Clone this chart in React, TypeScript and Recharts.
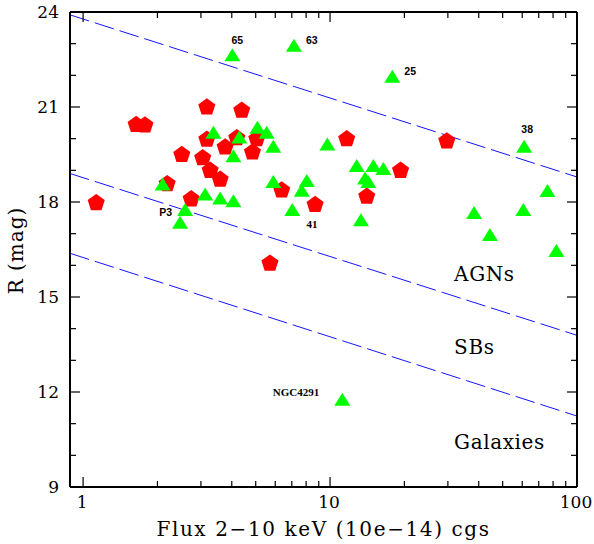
import React from 'react';
import { ScatterChart, Scatter, XAxis, YAxis, ReferenceLine, ReferenceDot, Label } from 'recharts';

// ---- data ----
const pentagonFlux = [1.13, 1.64, 1.78, 2.51, 2.19, 2.74, 3.17, 3.17, 3.05, 3.27, 3.59, 3.76, 4.39, 4.19, 5.05, 4.85, 6.37, 5.71, 8.7, 11.68, 14.08, 19.3, 29.7];
const pentagonMag = [18.0, 20.47, 20.45, 19.52, 18.6, 18.12, 21.02, 20.0, 19.42, 19.02, 18.74, 19.76, 20.92, 20.05, 20.02, 19.6, 18.4, 16.09, 17.94, 20.02, 18.2, 19.02, 19.95];
const pentagonLabels = ['', '', '', '', '', '', '', '', '', '', '', '', '', '', '', '', '', '', '41', '', '', '', ''];

const triangleFlux = [4.02, 7.14, 17.87, 61.1, 3.37, 5.08, 5.54, 4.29, 5.89, 4.06, 2.1, 3.12, 3.59, 4.06, 5.89, 2.59, 2.47, 7.03, 9.75, 8.05, 7.68, 12.82, 14.97, 16.44, 13.86, 14.29, 13.34, 75.9, 38.3, 60.6, 44.4, 82.5, 11.21];
const triangleMag = [22.65, 22.95, 21.97, 19.76, 20.2, 20.36, 20.2, 20.05, 19.76, 19.46, 18.57, 18.25, 18.13, 18.04, 18.65, 17.76, 17.36, 17.76, 19.83, 18.68, 18.37, 19.15, 19.15, 19.06, 18.76, 18.65, 17.44, 18.36, 17.67, 17.76, 16.97, 16.47, 11.77];
const triangleLabels = ['65', '63', '25', '38', '', '', '', '', '', '', '', '', '', '', '', 'P3', '', '', '', '', '', '', '', '', '', '', '', '', '', '', '', '', 'NGC4291'];

const boundaryLines = [
  [{ x: 0.885, y: 23.91 }, { x: 100, y: 18.79 }],
  [{ x: 0.885, y: 18.9 }, { x: 100, y: 13.79 }],
  [{ x: 0.885, y: 16.38 }, { x: 100, y: 11.24 }],
];

const regionNames = ['AGNs', 'SBs', 'Galaxies'];
const regionX = [31.8, 31.8, 31.8];
const regionY = [15.72, 13.41, 10.41];

const xTicks = [1, 2, 3, 4, 5, 6, 7, 8, 9, 10, 20, 30, 40, 50, 60, 70, 80, 90, 100];
const xLabelled = [1, 10, 100];
const yTicks = [9, 10, 11, 12, 13, 14, 15, 16, 17, 18, 19, 20, 21, 22, 23, 24];
const yLabelled = [9, 12, 15, 18, 21, 24];
const xDomain = [0.885, 100];
const yDomain = [9, 24];

const pentagons = pentagonFlux.map((x, i) => ({ x, y: pentagonMag[i], label: pentagonLabels[i] }));
const triangles = triangleFlux.map((x, i) => ({ x, y: triangleMag[i], label: triangleLabels[i] }));

// ---- styles ----
const SERIF = '"DejaVu Serif", serif';
const labelPlacement: Record<string, { dx: number; dy: number; anchor: string; serif?: boolean }> = {
  '65': { dx: 5, dy: -14.5, anchor: 'middle' },
  '63': { dx: 12, dy: -5, anchor: 'start' },
  '25': { dx: 12, dy: -5, anchor: 'start' },
  '38': { dx: 3, dy: -17.5, anchor: 'middle' },
  P3: { dx: -13, dy: 2, anchor: 'end' },
  '41': { dx: -3, dy: 20, anchor: 'middle', serif: true },
  NGC4291: { dx: -23, dy: -7.5, anchor: 'end', serif: true },
};

const PointLabel = ({ cx, cy, text }: any) => {
  if (!text) return null;
  const p = labelPlacement[text];
  return (
    <text
      x={cx + p.dx}
      y={cy + p.dy}
      textAnchor={p.anchor}
      dominantBaseline="central"
      fontFamily={p.serif ? '"Liberation Serif", serif' : '"Liberation Sans", sans-serif'}
      fontWeight="bold"
      fontSize={p.serif ? 11 : 10.5}
      fill="#000"
    >
      {text}
    </text>
  );
};

const Pentagon = (props: any) => {
  const { cx, cy, payload } = props;
  if (cx == null || cy == null) return null;
  const R = 9;
  const c = cy + 0.9;
  const pts = [0, 1, 2, 3, 4]
    .map((k) => {
      const a = ((-90 + 72 * k) * Math.PI) / 180;
      return `${cx + R * Math.cos(a)},${c + R * Math.sin(a)}`;
    })
    .join(' ');
  return (
    <g>
      <polygon points={pts} fill="#ff0000" />
      <PointLabel cx={cx} cy={cy} text={payload?.label} />
    </g>
  );
};

const Triangle = (props: any) => {
  const { cx, cy, payload } = props;
  if (cx == null || cy == null) return null;
  const pts = `${cx},${cy - 6.5} ${cx + 8},${cy + 6.5} ${cx - 8},${cy + 6.5}`;
  return (
    <g>
      <polygon points={pts} fill="#00ff00" />
      <PointLabel cx={cx} cy={cy} text={payload?.label} />
    </g>
  );
};

const tickStroke = { stroke: '#000', strokeWidth: 1.2 };

const BottomTick = ({ x, y, payload }: any) => {
  const major = xLabelled.includes(payload.value);
  return (
    <g>
      <line x1={x} y1={y} x2={x} y2={y - (major ? 10 : 6)} {...tickStroke} />
      {major && (
        <text x={x - 1} y={y + 15} textAnchor="middle" dominantBaseline="central" fontFamily={SERIF} fontSize={17} fill="#000">
          {payload.value}
        </text>
      )}
    </g>
  );
};

const TopTick = ({ x, y, payload }: any) => {
  const major = xLabelled.includes(payload.value);
  return <line x1={x} y1={y} x2={x} y2={y + (major ? 10 : 6)} {...tickStroke} />;
};

const LeftTick = ({ x, y, payload }: any) => {
  const major = yLabelled.includes(payload.value);
  return (
    <g>
      <line x1={x} y1={y} x2={x + (major ? 10 : 6)} y2={y} {...tickStroke} />
      {major && (
        <text x={x - 11} y={y} textAnchor="end" dominantBaseline="central" fontFamily={SERIF} fontSize={17} fill="#000">
          {payload.value}
        </text>
      )}
    </g>
  );
};

const RightTick = ({ x, y, payload }: any) => {
  const major = yLabelled.includes(payload.value);
  return <line x1={x} y1={y} x2={x - (major ? 10 : 6)} y2={y} {...tickStroke} />;
};

const RegionText = (props: any) => {
  const { cx, cy, text } = props;
  return (
    <text x={cx} y={cy} textAnchor="start" dominantBaseline="central" fontFamily={SERIF} fontSize={20} letterSpacing={0.6} fill="#000">
      {text}
    </text>
  );
};

const axisLine = { stroke: '#000', strokeWidth: 2 };

export default function App() {
  return (
    <div style={{ position: 'absolute', left: 0, top: 0, background: '#fff' }}>
      <ScatterChart width={594} height={544} margin={{ top: 0, right: 0, bottom: 0, left: 0 }}>
        <XAxis
          xAxisId="b"
          type="number"
          dataKey="x"
          scale="log"
          domain={xDomain}
          allowDataOverflow
          ticks={xTicks}
          interval={0}
          height={57}
          tickSize={0}
          tickMargin={0}
          tickLine={false}
          axisLine={axisLine}
          tick={<BottomTick />}
        >
          <Label
            content={(p: any) => {
              const vb = p.viewBox;
              return (
                <text x={vb.x + vb.width / 2} y={vb.y + 42} textAnchor="middle" dominantBaseline="central" fontFamily={SERIF} fontSize={20} letterSpacing={1.6} fill="#000">
                  Flux 2−10 keV (10e−14) cgs
                </text>
              );
            }}
          />
        </XAxis>
        <XAxis
          xAxisId="t"
          orientation="top"
          type="number"
          dataKey="x"
          scale="log"
          domain={xDomain}
          allowDataOverflow
          ticks={xTicks}
          interval={0}
          height={12}
          tickSize={0}
          tickMargin={0}
          tickLine={false}
          axisLine={axisLine}
          tick={<TopTick />}
        />
        <YAxis
          yAxisId="l"
          type="number"
          dataKey="y"
          domain={yDomain}
          allowDataOverflow
          ticks={yTicks}
          interval={0}
          width={70}
          tickSize={0}
          tickMargin={0}
          tickLine={false}
          axisLine={axisLine}
          tick={<LeftTick />}
        >
          <Label
            content={(p: any) => {
              const vb = p.viewBox;
              const cx = vb.x + 16;
              const cy = vb.y + vb.height / 2 + 1;
              return (
                <text x={cx} y={cy} transform={`rotate(-90 ${cx} ${cy})`} textAnchor="middle" dominantBaseline="central" fontFamily={SERIF} fontSize={20} letterSpacing={1} fill="#000">
                  R (mag)
                </text>
              );
            }}
          />
        </YAxis>
        <YAxis
          yAxisId="r"
          orientation="right"
          type="number"
          dataKey="y"
          domain={yDomain}
          allowDataOverflow
          ticks={yTicks}
          interval={0}
          width={17}
          tickSize={0}
          tickMargin={0}
          tickLine={false}
          axisLine={axisLine}
          tick={<RightTick />}
        />
        {boundaryLines.map((seg, i) => (
          <ReferenceLine
            key={`bl${i}`}
            xAxisId="b"
            yAxisId="l"
            segment={seg}
            stroke="#1414ff"
            strokeWidth={1}
            strokeDasharray="20 6"
            ifOverflow="visible"
          />
        ))}
        {regionNames.map((name, i) => (
          <ReferenceDot
            key={name}
            xAxisId="b"
            yAxisId="l"
            x={regionX[i]}
            y={regionY[i]}
            r={0}
            ifOverflow="visible"
            shape={(p: any) => <RegionText cx={p.cx} cy={p.cy} text={name} />}
          />
        ))}
        <Scatter xAxisId="b" yAxisId="l" data={pentagons} shape={<Pentagon />} isAnimationActive={false} />
        <Scatter xAxisId="b" yAxisId="l" data={triangles} shape={<Triangle />} isAnimationActive={false} />
      </ScatterChart>
    </div>
  );
}
